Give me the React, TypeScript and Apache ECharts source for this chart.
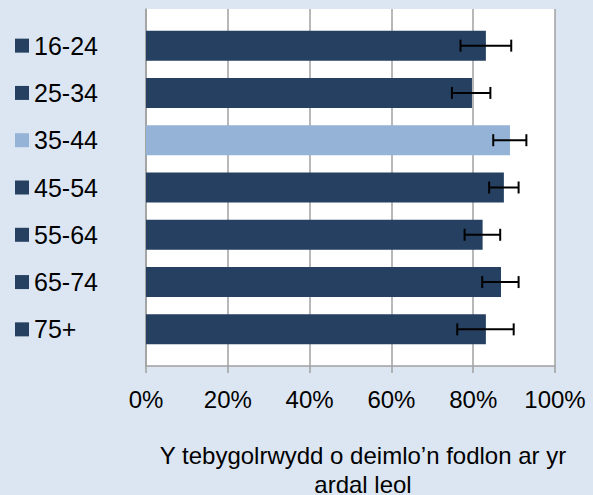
import React, { useEffect, useRef } from "react";
import * as echarts from "echarts";

const categories = ["16-24", "25-34", "35-44", "45-54", "55-64", "65-74", "75+"];
const values = [83.1, 79.7, 89.0, 87.5, 82.3, 86.8, 83.1];
const errLow = [76.9, 74.8, 84.9, 83.9, 77.9, 82.2, 76.1];
const errHigh = [89.3, 84.2, 93.0, 91.1, 86.6, 91.1, 89.9];
const highlighted = "35-44";
const xTicks = [0, 20, 40, 60, 80, 100];
const axisTitle = "Y tebygolrwydd o deimlo\u2019n fodlon ar yr\nardal leol";

const DARK = "#254061";
const LIGHT = "#95b3d7";
const BG = "#dce6f2";
const GRIDC = "#a0a0a0";
const FONT = "'Liberation Sans', Arial, sans-serif";

export default function App() {
  const ref = useRef<HTMLDivElement>(null);
  useEffect(() => {
    document.body.style.margin = "0";
    const chart = echarts.init(ref.current!, null, { renderer: "svg" });
    chart.setOption({
      animation: false,
      backgroundColor: BG,
      textStyle: { fontFamily: FONT },
      grid: [
        { left: 146, top: 9, width: 409, height: 357, show: true, backgroundColor: "#fff", borderWidth: 0 },
        { left: 146, top: 22, width: 409, height: 331 },
      ],
      xAxis: [
        {
          gridIndex: 0,
          type: "value",
          min: xTicks[0],
          max: xTicks[xTicks.length - 1],
          interval: xTicks[1] - xTicks[0],
          axisLine: { show: true, lineStyle: { color: GRIDC, width: 1.5 } },
          axisTick: { show: true, length: 7, lineStyle: { color: GRIDC, width: 1.5 } },
          splitLine: { show: true, lineStyle: { color: GRIDC, width: 1.5 } },
          axisLabel: { fontSize: 24, color: "#000", margin: 21, fontFamily: FONT, formatter: "{value}%" },
        },
        { gridIndex: 1, type: "value", min: 0, max: 100, show: false },
      ],
      yAxis: [
        {
          gridIndex: 0,
          type: "value",
          min: 0,
          max: 1,
          axisLine: { show: true, lineStyle: { color: GRIDC, width: 1.5 } },
          axisTick: { show: false },
          axisLabel: { show: false },
          splitLine: { show: false },
        },
        {
          gridIndex: 1,
          type: "category",
          inverse: true,
          data: categories,
          axisLine: { show: false },
          axisTick: { show: false },
          splitLine: { show: false },
          axisLabel: {
            align: "left",
            margin: 131,
            formatter: (v: string) => `{${v === highlighted ? "sqL" : "sqD"}|}{t|${v}}`,
            rich: {
              sqD: { width: 14, height: 14, backgroundColor: DARK },
              sqL: { width: 14, height: 14, backgroundColor: LIGHT },
              t: { fontSize: 25, color: "#000", fontFamily: FONT, padding: [0, 0, 0, 5] },
            },
          },
        },
      ],
      series: [
        {
          type: "bar",
          xAxisIndex: 1,
          yAxisIndex: 1,
          barWidth: 30,
          data: values.map((v, i) => ({
            value: v,
            itemStyle: { color: categories[i] === highlighted ? LIGHT : DARK },
          })),
        },
        {
          type: "custom",
          xAxisIndex: 1,
          yAxisIndex: 1,
          z: 5,
          encode: { y: 0, x: [1, 2] },
          data: categories.map((_, i) => [i, errLow[i], errHigh[i]]),
          renderItem: (_params: any, api: any) => {
            const y = api.value(0);
            const lo = api.coord([api.value(1), y]);
            const hi = api.coord([api.value(2), y]);
            const h = 6;
            const style = { stroke: "#000", lineWidth: 2 };
            return {
              type: "group",
              children: [
                { type: "line", shape: { x1: lo[0], y1: lo[1], x2: hi[0], y2: hi[1] }, style },
                { type: "line", shape: { x1: lo[0], y1: lo[1] - h, x2: lo[0], y2: lo[1] + h }, style },
                { type: "line", shape: { x1: hi[0], y1: hi[1] - h, x2: hi[0], y2: hi[1] + h }, style },
              ],
            };
          },
        },
      ],
      graphic: [
        {
          type: "text",
          x: 363,
          y: 470,
          style: {
            text: axisTitle,
            fill: "#000",
            font: `24px ${FONT}`,
            fontSize: 24,
            fontFamily: FONT,
            lineHeight: 29,
            textAlign: "center",
            textVerticalAlign: "middle",
          },
        },
      ],
    });
    return () => chart.dispose();
  }, []);
  return <div ref={ref} style={{ width: 593, height: 495 }} />;
}
